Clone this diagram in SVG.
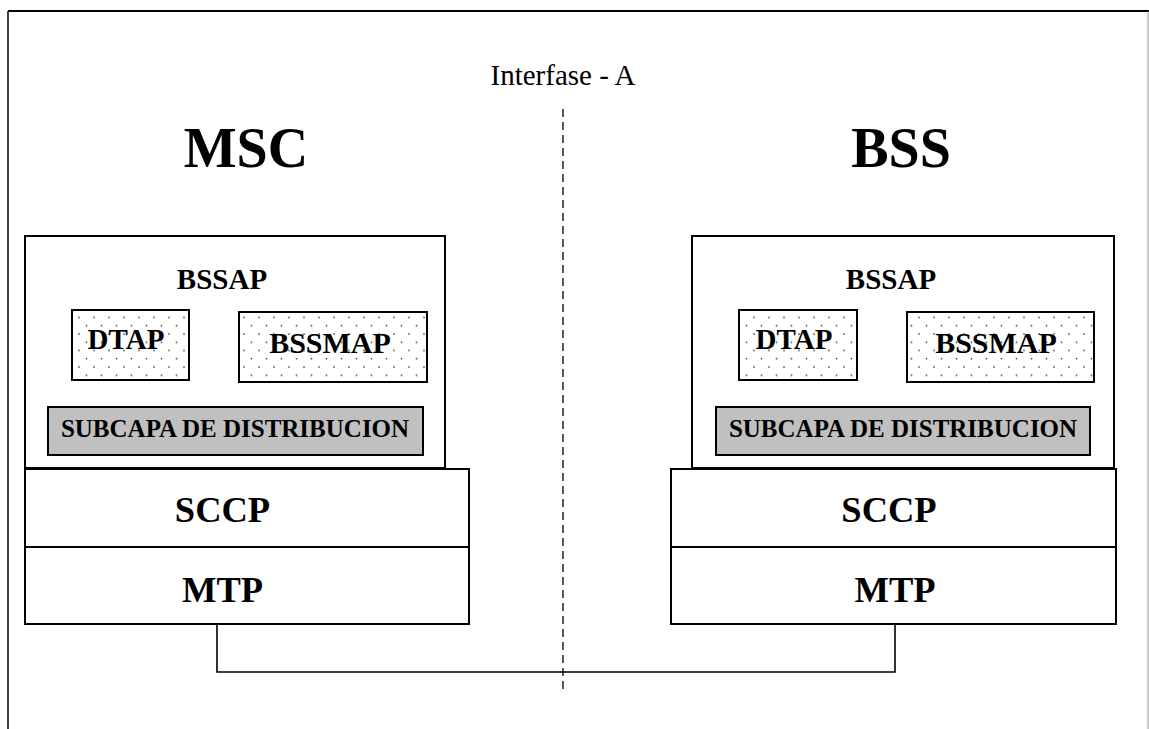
<svg xmlns="http://www.w3.org/2000/svg" width="1149" height="729" viewBox="0 0 1149 729">
<defs>
<pattern id="dots" x="0" y="0" width="15" height="16.5" patternUnits="userSpaceOnUse">
<rect width="15" height="16.5" fill="#fff"/>
<circle cx="4" cy="4" r="0.9" fill="#444"/>
<circle cx="11.5" cy="12.25" r="0.9" fill="#444"/>
</pattern>
</defs>
<style>
.box{fill:#fff;stroke:#000;stroke-width:2}
.dot{fill:url(#dots);stroke:#000;stroke-width:2}
.grey{fill:#c0c0c0;stroke:#000;stroke-width:2}
.t{font-family:"Liberation Serif","Times New Roman",serif;font-weight:bold;text-anchor:middle;fill:#000}
.conn{fill:none;stroke:#000;stroke-width:1.6}
</style>
<rect width="1149" height="729" fill="#fff"/>
<g id="frame">
<line x1="8" y1="11" x2="8" y2="729" stroke="#000" stroke-width="1.5"/>
<line x1="8" y1="11" x2="1149" y2="11" stroke="#000" stroke-width="2"/>
<line x1="1148" y1="11" x2="1148" y2="729" stroke="#999" stroke-width="1"/>
</g>
<g id="title">
<text x="563" y="85" font-family="'Liberation Serif','Times New Roman',serif" font-size="29" text-anchor="middle">Interfase - A</text>
</g>
<g id="msc-label"><text class="t" x="246" y="167" font-size="56">MSC</text></g>
<g id="bss-label"><text class="t" x="901" y="167" font-size="56">BSS</text></g>

<g id="msc-bssap">
<rect class="box" x="25" y="236" width="420" height="232"/>
<text class="t" x="222" y="289" font-size="29">BSSAP</text>
</g>
<g id="msc-dtap">
<rect class="dot" x="72" y="310" width="117" height="70"/>
<text class="t" x="126" y="349" font-size="29">DTAP</text>
</g>
<g id="msc-bssmap">
<rect class="dot" x="239" y="312" width="188" height="70"/>
<text class="t" x="330" y="353" font-size="30">BSSMAP</text>
</g>
<g id="msc-subcapa">
<rect class="grey" x="48" y="407" width="375" height="48"/>
<text class="t" x="235" y="437" font-size="25">SUBCAPA DE DISTRIBUCION</text>
</g>
<g id="msc-sccp">
<rect class="box" x="25" y="469" width="444" height="78"/>
<text class="t" x="222.5" y="522" font-size="36.5">SCCP</text>
</g>
<g id="msc-mtp">
<rect class="box" x="25" y="547" width="444" height="77"/>
<text class="t" x="222.5" y="602" font-size="36.5">MTP</text>
</g>

<g id="bss-bssap">
<rect class="box" x="692" y="236" width="422" height="232"/>
<text class="t" x="891" y="289" font-size="29">BSSAP</text>
</g>
<g id="bss-dtap">
<rect class="dot" x="739" y="310" width="118" height="70"/>
<text class="t" x="794" y="349" font-size="29">DTAP</text>
</g>
<g id="bss-bssmap">
<rect class="dot" x="907" y="312" width="187" height="70"/>
<text class="t" x="996" y="353" font-size="30">BSSMAP</text>
</g>
<g id="bss-subcapa">
<rect class="grey" x="716" y="407" width="374" height="48"/>
<text class="t" x="903" y="437" font-size="25">SUBCAPA DE DISTRIBUCION</text>
</g>
<g id="bss-sccp">
<rect class="box" x="671" y="469" width="445" height="78"/>
<text class="t" x="889" y="522" font-size="36.5">SCCP</text>
</g>
<g id="bss-mtp">
<rect class="box" x="671" y="547" width="445" height="77"/>
<text class="t" x="895" y="602" font-size="36.5">MTP</text>
</g>

<g id="connectors">
<polyline class="conn" points="217,624 217,672 895,672 895,624"/>
<line x1="563" y1="109" x2="563" y2="690" stroke="#000" stroke-width="1.3" stroke-dasharray="8,5"/>
</g>
</svg>
